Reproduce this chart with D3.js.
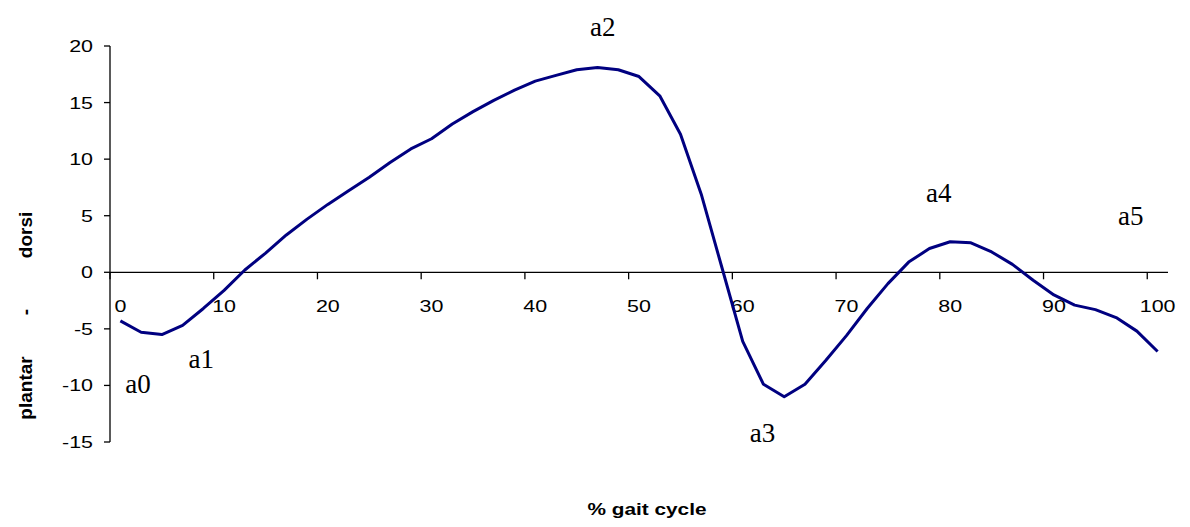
<!DOCTYPE html>
<html>
<head>
<meta charset="utf-8">
<script src="https://cdn.jsdelivr.net/npm/d3@7"></script>
<style>
  body { margin: 0; background: #fff; }
  svg { display: block; }
  .tick-label { font-family: "Liberation Sans", Arial, sans-serif; font-size: 16.5px; fill: #000; }
  .axis-title { font-family: "Liberation Sans", Arial, sans-serif; font-size: 16px; font-weight: bold; fill: #000; }
  .note { font-family: "Liberation Serif", "Times New Roman", serif; font-size: 27px; fill: #000; }
</style>
</head>
<body>
<svg id="chart" width="1190" height="527"></svg>
<script>
// gait cycle (%) every 2 percent, ankle angle in degrees
var cycle = d3.range(0, 101, 2);
var angle = [-4.3, -5.3, -5.5, -4.7, -3.2, -1.6, 0.2, 1.7, 3.3, 4.7,
  6.0, 7.2, 8.4, 9.7, 10.9, 11.8, 13.1, 14.2, 15.2, 16.1,
  16.9, 17.4, 17.9, 18.1, 17.9, 17.3, 15.6, 12.2, 6.9, 0.4,
  -6.1, -9.9, -11.0, -9.9, -7.8, -5.6, -3.2, -1.0, 0.9, 2.1,
  2.7, 2.6, 1.8, 0.7, -0.7, -2.0, -2.9, -3.3, -4.0, -5.2, -7.0];
var xTickLabels = ["0", "10", "20", "30", "40", "50", "60", "70", "80", "90", "100"];
var yTicks = [-15, -10, -5, 0, 5, 10, 15, 20];
// event labels: name, % of cycle, angle where the label sits
var noteNames = ["a0", "a1", "a2", "a3", "a4", "a5"];
var notePct = [1.7, 7.8, 46.5, 61.9, 78.9, 97.4];
var noteVal = [-10.7, -8.5, 20.9, -15.0, 6.2, 4.15];

var svg = d3.select("#chart");
var pLeft = 110, pRight = 1168, pTop = 46, pBottom = 442;
var stretch = 1.3; // the original text is drawn wide

// category axis like the spreadsheet: one band per sample
var x = d3.scaleBand().domain(cycle).range([pLeft, pRight]).padding(0);
var bw = x.bandwidth();
var xc = function (c) { return x(c) + bw / 2; };
var xl = d3.scaleLinear().domain([0, 100]).range([xc(0), xc(100)]);
var y = d3.scaleLinear().domain([-15, 20]).range([pBottom, pTop]);

// y axis
svg.append("line").attr("x1", pLeft).attr("x2", pLeft).attr("y1", y(20)).attr("y2", y(-15))
  .attr("stroke", "#000").attr("stroke-width", 1.3);
yTicks.forEach(function (t) {
  svg.append("line").attr("x1", pLeft - 6).attr("x2", pLeft).attr("y1", y(t)).attr("y2", y(t))
    .attr("stroke", "#000").attr("stroke-width", 1.3);
  svg.append("text").attr("class", "tick-label")
    .attr("transform", "translate(" + (pLeft - 17) + "," + (y(t) + 6) + ") scale(" + stretch + ",1)")
    .attr("text-anchor", "end").text(t);
});

// x axis crosses at zero
svg.append("line").attr("x1", pLeft).attr("x2", pRight).attr("y1", y(0)).attr("y2", y(0))
  .attr("stroke", "#000").attr("stroke-width", 1.3);
xTickLabels.forEach(function (lab, k) {
  var c = cycle[k * 5];
  svg.append("line").attr("x1", x(c)).attr("x2", x(c)).attr("y1", y(0)).attr("y2", y(0) + 7)
    .attr("stroke", "#000").attr("stroke-width", 1.3);
  svg.append("text").attr("class", "tick-label")
    .attr("transform", "translate(" + xc(c) + "," + (y(0) + 40) + ") scale(" + stretch + ",1)")
    .attr("text-anchor", "middle").text(lab);
});

// the curve, straight segments between samples
var line = d3.line()
  .x(function (d, i) { return xc(cycle[i]); })
  .y(function (d) { return y(d); });
svg.append("path").datum(angle).attr("d", line)
  .attr("fill", "none").attr("stroke", "#000080").attr("stroke-width", 3)
  .attr("stroke-linejoin", "round");

// event labels
noteNames.forEach(function (n, i) {
  svg.append("text").attr("class", "note")
    .attr("x", xl(notePct[i])).attr("y", y(noteVal[i]))
    .attr("text-anchor", "middle").text(n);
});

// axis titles
svg.append("text").attr("class", "axis-title")
  .attr("transform", "translate(647," + 515 + ") scale(" + stretch + ",1)")
  .attr("text-anchor", "middle").text("% gait cycle");

var yTitle = [["dorsi", 235], ["-", 312], ["plantar", 388]];
yTitle.forEach(function (p) {
  svg.append("text").attr("class", "axis-title").style("font-size", "19px")
    .attr("transform", "translate(32," + p[1] + ") rotate(-90)")
    .attr("text-anchor", "middle").text(p[0]);
});
</script>
</body>
</html>
